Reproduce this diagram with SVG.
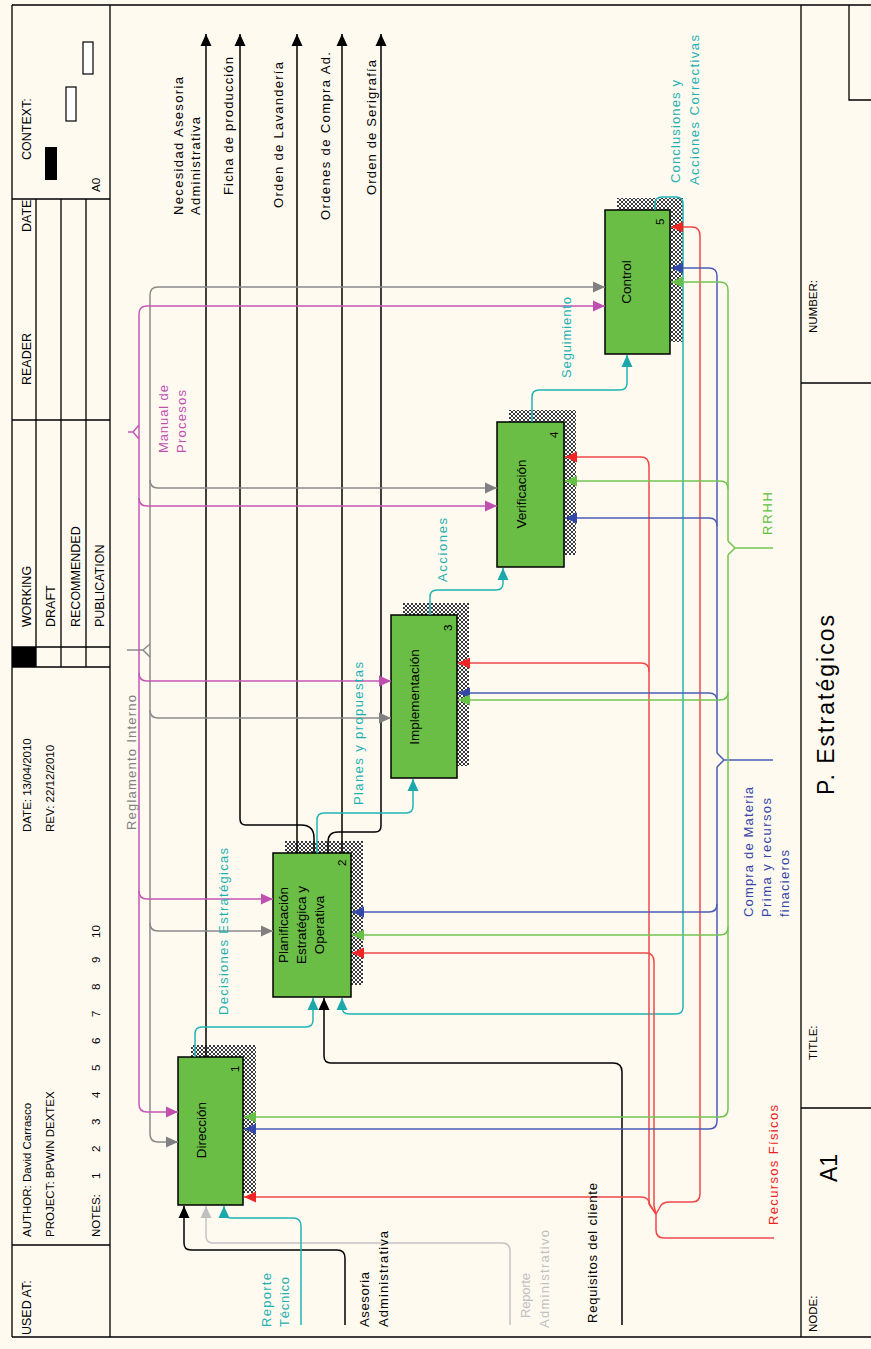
<svg xmlns="http://www.w3.org/2000/svg" width="871" height="1349" viewBox="0 0 871 1349">
<defs>
<pattern id="hatch" width="4" height="4" patternUnits="userSpaceOnUse"><rect width="4" height="4" fill="#fff"/><path d="M0,0L4,4M4,0L0,4" stroke="#222" stroke-width="0.9"/></pattern>
<marker id="ak" viewBox="0 0 12 12" refX="12" refY="6" markerWidth="12" markerHeight="12" markerUnits="userSpaceOnUse" orient="auto"><path d="M0,0.5L12,6L0,11.5z" fill="#000"/></marker>
<marker id="at" viewBox="0 0 12 12" refX="12" refY="6" markerWidth="12" markerHeight="12" markerUnits="userSpaceOnUse" orient="auto"><path d="M0,0.5L12,6L0,11.5z" fill="#1AA8AA"/></marker>
<marker id="am" viewBox="0 0 12 12" refX="12" refY="6" markerWidth="12" markerHeight="12" markerUnits="userSpaceOnUse" orient="auto"><path d="M0,0.5L12,6L0,11.5z" fill="#C050B0"/></marker>
<marker id="ag" viewBox="0 0 12 12" refX="12" refY="6" markerWidth="12" markerHeight="12" markerUnits="userSpaceOnUse" orient="auto"><path d="M0,0.5L12,6L0,11.5z" fill="#808080"/></marker>
<marker id="al" viewBox="0 0 12 12" refX="12" refY="6" markerWidth="12" markerHeight="12" markerUnits="userSpaceOnUse" orient="auto"><path d="M0,0.5L12,6L0,11.5z" fill="#C0C0C0"/></marker>
<marker id="ar" viewBox="0 0 12 12" refX="12" refY="6" markerWidth="12" markerHeight="12" markerUnits="userSpaceOnUse" orient="auto"><path d="M0,0.5L12,6L0,11.5z" fill="#F02424"/></marker>
<marker id="ab" viewBox="0 0 12 12" refX="12" refY="6" markerWidth="12" markerHeight="12" markerUnits="userSpaceOnUse" orient="auto"><path d="M0,0.5L12,6L0,11.5z" fill="#3448A8"/></marker>
<marker id="an" viewBox="0 0 12 12" refX="12" refY="6" markerWidth="12" markerHeight="12" markerUnits="userSpaceOnUse" orient="auto"><path d="M0,0.5L12,6L0,11.5z" fill="#66C046"/></marker>
</defs>
<style>
.fr{fill:none;stroke:#000;stroke-width:1.3}
.ln{fill:none;stroke-width:1.5}
.k{stroke:#000}.t{stroke:#22B4B4}.m{stroke:#C458B4}.g{stroke:#8A8A8A}.l{stroke:#C4C4C4}.r{stroke:#F04848}.b{stroke:#4C5CB8}.n{stroke:#72C452}
.box{fill:#6ABD45;stroke:#000;stroke-width:1.5}
.sh{fill:url(#hatch)}
text{font-family:"Liberation Sans",Arial,sans-serif}
.h{font-size:11.5px;fill:#000}
.hw{font-size:12.5px;fill:#000}
.x{font-size:13px}
.ck{fill:#000}.ct{fill:#1EB0B0}.cm{fill:#C050B0}.cg{fill:#808080}.cl{fill:#C0C0C0}.cr{fill:#F02020}.cb{fill:#3446A8}.cn{fill:#60C040}
.bl{font-size:13.5px;fill:#000;text-anchor:middle}
</style>
<rect width="871" height="1349" fill="#FFFAF0"/>
<g id="header">
<path class="fr" d="M12,5H871M12,1337H871M12,5V1337M110,5V1337M12,199H110M12,420H110M12,647H110M12,667H110M12,1245H110M36,199V667M61,199V667M86,199V667"/>
<rect x="12" y="647" width="24" height="20" fill="#000"/>
<rect x="45" y="147" width="12" height="33" fill="#000"/>
<rect x="66" y="87" width="10" height="34" fill="#fff" stroke="#000" stroke-width="1.2"/>
<rect x="83" y="42" width="10" height="32" fill="#fff" stroke="#000" stroke-width="1.2"/>
<text class="h" transform="translate(100 192) rotate(-90)">A0</text>
<text class="hw" transform="translate(31 160) rotate(-90)">CONTEXT:</text>
<text class="hw" transform="translate(31 232) rotate(-90)">DATE</text>
<text class="hw" transform="translate(31 385) rotate(-90)">READER</text>
<text class="hw" transform="translate(31 627) rotate(-90)">WORKING</text>
<text class="hw" transform="translate(55 627) rotate(-90)">DRAFT</text>
<text class="hw" transform="translate(80 627) rotate(-90)">RECOMMENDED</text>
<text class="hw" transform="translate(104 627) rotate(-90)">PUBLICATION</text>
<text class="h" transform="translate(31 832) rotate(-90)">DATE:  13/04/2010</text>
<text class="h" transform="translate(54 832) rotate(-90)">REV:    22/12/2010</text>
<text class="h" transform="translate(31 1237) rotate(-90)">AUTHOR:  David Carrasco</text>
<text class="h" transform="translate(54 1237) rotate(-90)">PROJECT:  BPWIN DEXTEX</text>
<text class="h" transform="translate(100 1237) rotate(-90)">NOTES:</text>
<text class="h" transform="translate(100 1179) rotate(-90)">1</text>
<text class="h" transform="translate(100 1152) rotate(-90)">2</text>
<text class="h" transform="translate(100 1125) rotate(-90)">3</text>
<text class="h" transform="translate(100 1098) rotate(-90)">4</text>
<text class="h" transform="translate(100 1071) rotate(-90)">5</text>
<text class="h" transform="translate(100 1044) rotate(-90)">6</text>
<text class="h" transform="translate(100 1017) rotate(-90)">7</text>
<text class="h" transform="translate(100 990) rotate(-90)">8</text>
<text class="h" transform="translate(100 963) rotate(-90)">9</text>
<text class="h" transform="translate(100 938) rotate(-90)">10</text>
<text class="hw" transform="translate(31 1335) rotate(-90)">USED AT:</text>
</g>
<g id="footer">
<path class="fr" d="M801,5V1337M849,5V100H871M801,383H871M801,1108H871"/>
<text class="h" transform="translate(817 333) rotate(-90)">NUMBER:</text>
<text class="h" transform="translate(817 1060) rotate(-90)">TITLE:</text>
<text class="h" transform="translate(817 1332) rotate(-90)">NODE:</text>
<text transform="translate(834 795) rotate(-90)" font-size="23" textLength="180" lengthAdjust="spacing">P. Estratégicos</text>
<text transform="translate(837 1182) rotate(-90)" font-size="23">A1</text>
</g>
<g id="n1">
<rect class="sh" x="191" y="1045" width="65" height="148"/>
<rect class="box" x="178" y="1057" width="65" height="148"/>
<text class="bl" transform="translate(206 1130) rotate(-90)">Dirección</text>
<text class="h" transform="translate(239 1072) rotate(-90)">1</text>
</g>
<g id="n2">
<rect class="sh" x="285" y="841" width="78" height="144"/>
<rect class="box" x="273" y="853" width="78" height="144"/>
<text class="bl" transform="translate(288 925) rotate(-90)">Planificación</text>
<text class="bl" transform="translate(306 925) rotate(-90)">Estratégica y</text>
<text class="bl" transform="translate(324 925) rotate(-90)">Operativa</text>
<text class="h" transform="translate(346 866) rotate(-90)">2</text>
</g>
<g id="n3">
<rect class="sh" x="403" y="603" width="66" height="163"/>
<rect class="box" x="391" y="615" width="66" height="163"/>
<text class="bl" transform="translate(419 697) rotate(-90)">Implementación</text>
<text class="h" transform="translate(452 631) rotate(-90)">3</text>
</g>
<g id="n4">
<rect class="sh" x="509" y="410" width="67" height="145"/>
<rect class="box" x="497" y="422" width="67" height="145"/>
<text class="bl" transform="translate(526 494) rotate(-90)">Verificación</text>
<text class="h" transform="translate(558 438) rotate(-90)">4</text>
</g>
<g id="n5">
<rect class="sh" x="617" y="198" width="66" height="144"/>
<rect class="box" x="605" y="210" width="65" height="144"/>
<text class="bl" transform="translate(631 282) rotate(-90)">Control</text>
<text class="h" transform="translate(664 225) rotate(-90)">5</text>
</g>
<g id="connectors">
<g class="ln k">
<path d="M206,1057V34" marker-end="url(#ak)"/>
<path d="M314,853V838Q314,825 301,825H246Q240,825 240,819V34" marker-end="url(#ak)"/>
<path d="M297,853V34" marker-end="url(#ak)"/>
<path d="M342,853V34" marker-end="url(#ak)"/>
<path d="M328,853V842Q328,832 338,832H375Q381,832 381,826V34" marker-end="url(#ak)"/>
<path d="M622,1325V1072Q622,1063 613,1063H331Q324,1063 324,1056V998" marker-end="url(#ak)"/>
<path d="M345,1325V1258Q345,1250 337,1250H191Q184,1250 184,1243V1206" marker-end="url(#ak)"/>
</g>
<path class="ln l" d="M510,1325V1251Q510,1243 502,1243H213Q206,1243 206,1236V1206" marker-end="url(#al)"/>
<g class="ln t">
<path d="M195,1057V1034Q195,1027 202,1027H306Q313,1027 313,1020V998" marker-end="url(#at)"/>
<path d="M317,853V820Q317,813 324,813H406Q413,813 413,806V779" marker-end="url(#at)"/>
<path d="M430,615V597Q430,590 437,590H496Q503,590 503,583V568" marker-end="url(#at)"/>
<path d="M532,422V397Q532,390 539,390H620Q627,390 627,383V355" marker-end="url(#at)"/>
<path d="M655,210V204Q655,197 662,197H676Q683,197 683,204V1007Q683,1014 676,1014H349Q342,1014 342,1007V998" marker-end="url(#at)"/>
<path d="M301,1325V1226Q301,1218 293,1218H231Q224,1218 224,1211V1206" marker-end="url(#at)"/>
</g>
<g class="ln g">
<path d="M127,650H143M143,650L150,644M143,650L150,657"/>
<path d="M150,650V295Q150,287 158,287H605" marker-end="url(#ag)"/>
<path d="M150,650V1134Q150,1142 158,1142H178" marker-end="url(#ag)"/>
<path d="M150,480Q150,488 158,488H497" marker-end="url(#ag)"/>
<path d="M150,710Q150,718 158,718H391" marker-end="url(#ag)"/>
<path d="M150,923Q150,931 158,931H273" marker-end="url(#ag)"/>
</g>
<g class="ln m">
<path d="M128,432H133M133,432L139,425M133,432L139,439"/>
<path d="M139,432V314Q139,306 147,306H605" marker-end="url(#am)"/>
<path d="M139,432V1104Q139,1112 147,1112H178" marker-end="url(#am)"/>
<path d="M139,498Q139,506 147,506H497" marker-end="url(#am)"/>
<path d="M139,673Q139,681 147,681H391" marker-end="url(#am)"/>
<path d="M139,891Q139,899 147,899H273" marker-end="url(#am)"/>
</g>
<g class="ln r">
<path d="M774,1238H664Q656,1238 656,1230V1214"/>
<path d="M656,1214L650,1205Q649,1197 641,1197H244" marker-end="url(#ar)"/>
<path d="M656,1214L649,1204V671Q649,663 641,663H458" marker-end="url(#ar)"/>
<path d="M649,672V466Q649,457 641,457H565" marker-end="url(#ar)"/>
<path d="M656,1214L654,1206V962Q654,953 646,953H352" marker-end="url(#ar)"/>
<path d="M656,1214L660,1207Q662,1202 670,1202H692Q700,1202 700,1194V236Q700,227 692,227H671" marker-end="url(#ar)"/>
</g>
<g class="ln b">
<path d="M773,760H724M724,760L717,753M724,760L717,767"/>
<path d="M717,753V276Q717,268 709,268H671" marker-end="url(#ab)"/>
<path d="M717,526Q717,518 709,518H565" marker-end="url(#ab)"/>
<path d="M717,701Q717,693 709,693H458" marker-end="url(#ab)"/>
<path d="M717,767V1121Q717,1129 709,1129H244" marker-end="url(#ab)"/>
<path d="M717,904Q717,912 709,912H352" marker-end="url(#ab)"/>
</g>
<g class="ln n">
<path d="M773,548H735M735,548L728,541M735,548L728,555"/>
<path d="M728,541V290Q728,282 720,282H671" marker-end="url(#an)"/>
<path d="M728,489Q728,481 720,481H565" marker-end="url(#an)"/>
<path d="M728,692Q728,700 720,700H458" marker-end="url(#an)"/>
<path d="M728,555V1109Q728,1117 720,1117H244" marker-end="url(#an)"/>
<path d="M728,927Q728,935 720,935H352" marker-end="url(#an)"/>
</g>
<g class="x">
<text class="ck" transform="translate(183 215) rotate(-90)" textLength="138" lengthAdjust="spacing">Necesidad Asesoria</text>
<text class="ck" transform="translate(200 215) rotate(-90)" textLength="98" lengthAdjust="spacing">Administrativa</text>
<text class="ck" transform="translate(233 195) rotate(-90)" textLength="138" lengthAdjust="spacing">Ficha de producción</text>
<text class="ck" transform="translate(283 208) rotate(-90)" textLength="146" lengthAdjust="spacing">Orden de Lavandería</text>
<text class="ck" transform="translate(330 220) rotate(-90)" textLength="168" lengthAdjust="spacing">Ordenes de Compra Ad.</text>
<text class="ck" transform="translate(376 195) rotate(-90)" textLength="135" lengthAdjust="spacing">Orden de Serigrafía</text>
<text class="ct" transform="translate(680 183) rotate(-90)" textLength="103" lengthAdjust="spacing">Conclusiones y</text>
<text class="ct" transform="translate(699 185) rotate(-90)" textLength="150" lengthAdjust="spacing">Acciones Correctivas</text>
<text class="cm" transform="translate(168 453) rotate(-90)" textLength="68" lengthAdjust="spacing">Manual de</text>
<text class="cm" transform="translate(186 453) rotate(-90)" textLength="63" lengthAdjust="spacing">Procesos</text>
<text class="ct" transform="translate(571 378) rotate(-90)" textLength="81" lengthAdjust="spacing">Seguimiento</text>
<text class="ct" transform="translate(447 582) rotate(-90)" textLength="64" lengthAdjust="spacing">Acciones</text>
<text class="cn" transform="translate(772 535) rotate(-90)" textLength="43" lengthAdjust="spacing">RRHH</text>
<text class="ct" transform="translate(363 805) rotate(-90)" textLength="143" lengthAdjust="spacing">Planes y propuestas</text>
<text class="cg" transform="translate(136 830) rotate(-90)" textLength="135" lengthAdjust="spacing">Reglamento Interno</text>
<text class="cb" transform="translate(753 917) rotate(-90)" textLength="130" lengthAdjust="spacing">Compra de Materia</text>
<text class="cb" transform="translate(771 917) rotate(-90)" textLength="119" lengthAdjust="spacing">Prima y recursos</text>
<text class="cb" transform="translate(789 917) rotate(-90)" textLength="67" lengthAdjust="spacing">finacieros</text>
<text class="ct" transform="translate(228 1015) rotate(-90)" textLength="167" lengthAdjust="spacing">Decisiones Estratégicas</text>
<text class="cr" transform="translate(778 1225) rotate(-90)" textLength="120" lengthAdjust="spacing">Recursos Físicos</text>
<text class="ck" transform="translate(597 1323) rotate(-90)" textLength="140" lengthAdjust="spacing">Requisitos del cliente</text>
<text class="ct" transform="translate(271 1327) rotate(-90)" textLength="54" lengthAdjust="spacing">Reporte</text>
<text class="ct" transform="translate(289 1327) rotate(-90)" textLength="50" lengthAdjust="spacing">Técnico</text>
<text class="ck" transform="translate(369 1327) rotate(-90)" textLength="55" lengthAdjust="spacing">Asesoria</text>
<text class="ck" transform="translate(388 1327) rotate(-90)" textLength="96" lengthAdjust="spacing">Administrativa</text>
<text class="cl" transform="translate(530 1318) rotate(-90)" textLength="45" lengthAdjust="spacing">Reporte</text>
<text class="cl" transform="translate(549 1328) rotate(-90)" textLength="98" lengthAdjust="spacing">Administrativo</text>
</g>
</g>
</svg>
